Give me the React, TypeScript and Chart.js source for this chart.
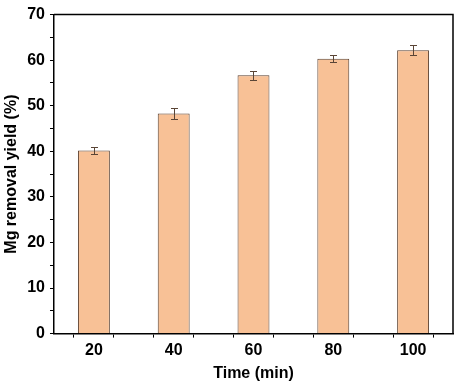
import React, { useEffect, useRef } from "react";
import { Chart, registerables } from "chart.js";

Chart.register(...registerables);

const times = [20, 40, 60, 80, 100];
const yields = [40.2, 48.3, 56.7, 60.3, 62.2];
const errors = [0.8, 1.2, 1.0, 0.8, 1.1];
const xLabelValues = [20, 40, 60, 80, 100];
const yLabelValues = [0, 10, 20, 30, 40, 50, 60, 70];

const FONT = "'Liberation Sans', Arial, sans-serif";

const errorBarPlugin = {
  id: "errorBars",
  afterDatasetsDraw(chart: any) {
    const ctx = chart.ctx;
    const xs = chart.scales.x;
    const ys = chart.scales.y;
    ctx.save();
    ctx.strokeStyle = "#5a4536";
    ctx.lineWidth = 1;
    times.forEach((t, i) => {
      const px = Math.round(xs.getPixelForValue(t)) + 0.5;
      const top = Math.round(ys.getPixelForValue(yields[i] + errors[i])) + 0.5;
      const bot = Math.round(ys.getPixelForValue(yields[i] - errors[i])) + 0.5;
      ctx.beginPath();
      ctx.moveTo(px, top);
      ctx.lineTo(px, bot);
      ctx.moveTo(px - 3.5, top);
      ctx.lineTo(px + 3.5, top);
      ctx.moveTo(px - 3.5, bot);
      ctx.lineTo(px + 3.5, bot);
      ctx.stroke();
    });
    ctx.restore();
  },
};

const framePlugin = {
  id: "frame",
  afterDraw(chart: any) {
    const { ctx, chartArea } = chart;
    ctx.save();
    ctx.strokeStyle = "#000";
    ctx.lineWidth = 1.5;
    ctx.beginPath();
    ctx.moveTo(chartArea.left, chartArea.top);
    ctx.lineTo(chartArea.right, chartArea.top);
    ctx.lineTo(chartArea.right, chartArea.bottom);
    ctx.stroke();
    ctx.restore();
  },
};

export default function App() {
  const ref = useRef<HTMLCanvasElement>(null);
  useEffect(() => {
    if (!ref.current) return;
    const chart = new Chart(ref.current, {
      type: "bar",
      data: {
        datasets: [
          {
            data: times.map((t, i) => ({ x: t, y: yields[i] })),
            backgroundColor: "#F8C196",
            borderColor: "#5a3f2e",
            borderWidth: 1,
            barPercentage: 0.8,
            categoryPercentage: 1,
          },
        ],
      },
      options: {
        animation: false,
        responsive: false,
        maintainAspectRatio: false,
        layout: { padding: { top: 1, right: 9, left: 0, bottom: 0 } },
        plugins: { legend: { display: false }, tooltip: { enabled: false } },
        scales: {
          x: {
            type: "linear",
            min: 10,
            max: 110,
            offset: false,
            ticks: {
              stepSize: 10,
              autoSkip: false,
              maxRotation: 0,
              color: "#000",
              font: { family: FONT, size: 16, weight: "bold" },
              padding: 3,
              callback: (v: any) => (xLabelValues.includes(Number(v)) ? String(v) : ""),
            },
            grid: {
              display: true,
              drawOnChartArea: false,
              drawTicks: true,
              tickLength: 4,
              tickColor: "#000",
              tickWidth: 1,
            },
            border: { display: true, color: "#000", width: 1.5 },
            title: {
              display: true,
              text: "Time (min)",
              color: "#000",
              font: { family: FONT, size: 16, weight: "bold" },
              padding: { top: 1, bottom: 0 },
            },
          },
          y: {
            type: "linear",
            min: 0,
            max: 70,
            ticks: {
              stepSize: 5,
              autoSkip: false,
              color: "#000",
              font: { family: FONT, size: 16, weight: "bold" },
              padding: 5,
              callback: (v: any) => (yLabelValues.includes(Number(v)) ? String(v) : ""),
            },
            grid: {
              display: true,
              drawOnChartArea: false,
              drawTicks: true,
              tickLength: 4,
              tickColor: "#000",
              tickWidth: 1,
            },
            border: { display: true, color: "#000", width: 1.5 },
            title: {
              display: true,
              text: "Mg removal yield (%)",
              color: "#000",
              font: { family: FONT, size: 16, weight: "bold" },
              padding: { top: 2, bottom: 1 },
            },
          },
        },
      },
      plugins: [errorBarPlugin, framePlugin],
    } as any);
    return () => chart.destroy();
  }, []);
  return (
    <div style={{ position: "fixed", left: 0, top: 0, width: 462, height: 383, background: "#fff" }}>
      <canvas ref={ref} width={462} height={383} />
    </div>
  );
}
